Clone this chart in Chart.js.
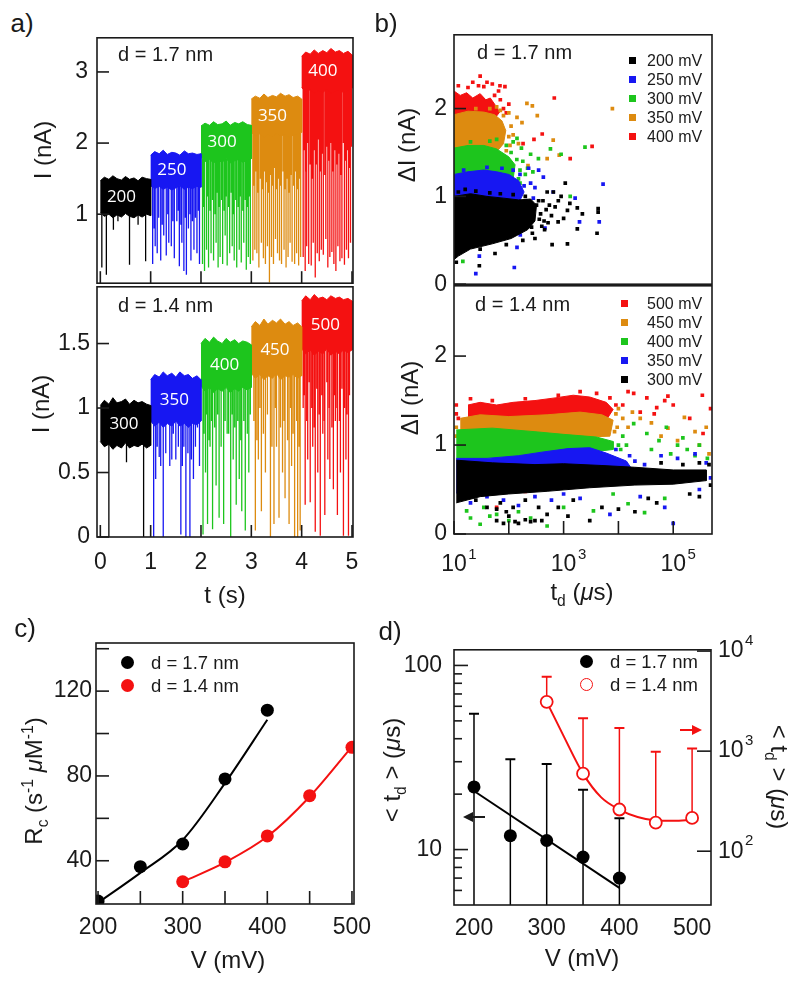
<!DOCTYPE html>
<html>
<head>
<meta charset="utf-8">
<title>Translocation panels</title>
<script src="https://cdn.jsdelivr.net/npm/chart.js@4.4.1/dist/chart.umd.min.js"></script>
<style>
  html, body { margin: 0; padding: 0; background: #fff; }
  body { width: 800px; height: 981px; position: relative; overflow: hidden;
         font-family: "Liberation Sans", Arial, Helvetica, sans-serif; color: #1a1a1a; }
  canvas { position: absolute; }
  .t { position: absolute; white-space: nowrap; line-height: 1; transform: translate(-50%, -50%); }
  .l { position: absolute; white-space: nowrap; line-height: 1; transform: translateY(-50%); }
  .up { transform: translate(-50%, -50%) rotate(-90deg); }
  .dn { transform: translate(-50%, -50%) rotate(90deg); }
  .ttl { font-size: 24px; }
  .pl { font-size: 26px; }
  .ann { font-size: 20px; }
  sub, sup { font-size: 65%; line-height: 0; }
  .leg { position: absolute; font-size: 16px; line-height: 19px; white-space: nowrap; }
  .leg2 { position: absolute; font-size: 18.5px; line-height: 23px; white-space: nowrap; }
  .mk { display: inline-block; vertical-align: middle; }
</style>
</head>
<body>
<canvas id="aTop"></canvas>
<canvas id="aBot"></canvas>
<canvas id="bTop"></canvas>
<canvas id="bBot"></canvas>
<canvas id="cPanel"></canvas>
<canvas id="dPanel"></canvas>

<!-- panel letters -->
<div class="t pl" style="left:22px;top:23px">a)</div>
<div class="t pl" style="left:386px;top:23px">b)</div>
<div class="t pl" style="left:25px;top:628px">c)</div>
<div class="t pl" style="left:390px;top:631px">d)</div>

<!-- annotations -->
<div class="l ann" style="left:118px;top:54px">d = 1.7 nm</div>
<div class="l ann" style="left:118px;top:305px">d = 1.4 nm</div>
<div class="l ann" style="left:477px;top:52px">d = 1.7 nm</div>
<div class="l ann" style="left:475px;top:304px">d = 1.4 nm</div>

<!-- axis titles -->
<div class="t up ttl" style="left:43px;top:150px">I (nA)</div>
<div class="t up ttl" style="left:41px;top:404px">I (nA)</div>
<div class="t ttl" style="left:225px;top:595px">t (s)</div>
<div class="t up ttl" style="left:407px;top:145px">ΔI (nA)</div>
<div class="t up ttl" style="left:410px;top:398px">ΔI (nA)</div>
<div class="t ttl" style="left:582px;top:592px">t<sub>d</sub> (<i>μ</i>s)</div>
<div class="t up ttl" style="left:34px;top:781px">R<sub>c</sub> (s<sup>-1</sup> <i>μ</i>M<sup>-1</sup>)</div>
<div class="t ttl" style="left:228px;top:960px">V (mV)</div>
<div class="t up ttl" style="left:392px;top:770px">&lt; t<sub>d</sub> &gt; (<i>μ</i>s)</div>
<div class="t dn ttl" style="left:779px;top:777px">&lt; t<sub>d</sub> &gt; (<i>μ</i>s)</div>
<div class="t ttl" style="left:582px;top:958px">V (mV)</div>

<!-- arrows in d -->
<svg style="position:absolute;left:463px;top:810px" width="24" height="14">
  <line x1="7" y1="7" x2="22" y2="7" stroke="#1a1a1a" stroke-width="2"/>
  <polygon points="0,7 10,2 10,12" fill="#1a1a1a"/>
</svg>
<svg style="position:absolute;left:679px;top:723px" width="24" height="14">
  <line x1="1" y1="7" x2="16" y2="7" stroke="#f41111" stroke-width="2"/>
  <polygon points="23,7 13,2 13,12" fill="#f41111"/>
</svg>

<script>
"use strict";

// Colours used throughout the figure
const BLACK = "#000000";
const BLUE = "#1717f2";
const GREEN = "#1dc51d";
const ORANGE = "#dd8b10";
const RED = "#f41111";
const INK = "#1a1a1a";

// ---------------- a) current traces ----------------
const aTopVolts = [200, 250, 300, 350, 400];
const aBotVolts = [300, 350, 400, 450, 500];
const aStarts = [0, 1, 2, 3, 4];          // start of each voltage step (s)
const aColors = [BLACK, BLUE, GREEN, ORANGE, RED];
const edgeT = [0, 0.08, 0.17, 0.25, 0.33, 0.42, 0.5, 0.58, 0.67, 0.75, 0.83, 0.92, 1.0];

// open-pore current envelope (nA), sampled at edgeT inside each step
const aTopUpper = [
    [1.47, 1.52, 1.49, 1.54, 1.50, 1.48, 1.53, 1.49, 1.51, 1.47, 1.52, 1.50, 1.49],
    [1.83, 1.88, 1.85, 1.90, 1.84, 1.87, 1.86, 1.83, 1.89, 1.85, 1.86, 1.84, 1.85],
    [2.24, 2.28, 2.25, 2.30, 2.26, 2.27, 2.31, 2.25, 2.29, 2.27, 2.30, 2.26, 2.25],
    [2.62, 2.66, 2.63, 2.69, 2.64, 2.67, 2.65, 2.70, 2.66, 2.68, 2.64, 2.66, 2.62],
    [3.22, 3.28, 3.25, 3.31, 3.26, 3.30, 3.27, 3.33, 3.28, 3.30, 3.26, 3.29, 3.24]
];
const aTopLower = [
    [1.02, 0.97, 1.00, 0.95, 0.99, 0.96, 1.01, 0.97, 0.95, 0.99, 0.96, 1.00, 0.98],
    [1.40, 1.36, 1.39, 1.35, 1.38, 1.34, 1.37, 1.40, 1.35, 1.38, 1.36, 1.39, 1.38],
    [1.80, 1.74, 1.77, 1.72, 1.76, 1.73, 1.78, 1.72, 1.75, 1.77, 1.73, 1.76, 1.78],
    [2.15, 2.10, 2.13, 2.08, 2.12, 2.09, 2.14, 2.10, 2.12, 2.08, 2.11, 2.13, 2.15],
    [2.78, 2.72, 2.75, 2.70, 2.74, 2.71, 2.76, 2.70, 2.73, 2.75, 2.71, 2.74, 2.77]
];
// blockade events: [time (s), minimum current (nA)]
const aTopSpikes = [
    [[0.03, 0.25], [0.12, 0.15], [0.26, 0.78], [0.35, 0.90], [0.58, 0.29], [0.75, 0.85], [0.90, 0.34]],
    [[1.04, 0.30], [1.07, 0.80], [1.09, 0.55], [1.13, 0.45], [1.16, 0.95], [1.20, 0.35], [1.23, 0.85],
     [1.26, 0.70], [1.31, 0.42], [1.34, 1.00], [1.36, 0.60], [1.41, 0.55], [1.44, 0.90], [1.47, 0.38],
     [1.52, 0.90], [1.55, 1.05], [1.57, 0.27], [1.60, 0.85], [1.62, 0.60], [1.66, 0.20], [1.69, 0.95],
     [1.71, 0.15], [1.75, 0.80], [1.78, 1.00], [1.80, 0.35], [1.83, 0.90], [1.86, 0.50], [1.89, 0.95],
     [1.92, 0.45], [1.95, 1.05], [1.97, 0.30]],
    [[2.03, 0.30], [2.05, 1.10], [2.07, 0.20], [2.11, 0.50], [2.13, 1.25], [2.15, 0.25], [2.18, 1.05],
     [2.20, 0.45], [2.23, 1.20], [2.25, 0.35], [2.28, 1.00], [2.30, 0.60], [2.32, 1.30], [2.34, 0.25],
     [2.36, 1.10], [2.38, 0.40], [2.41, 1.20], [2.43, 0.30], [2.46, 1.05], [2.48, 0.70], [2.50, 1.25],
     [2.52, 0.28], [2.55, 1.10], [2.57, 0.45], [2.60, 1.30], [2.62, 0.55], [2.64, 1.00], [2.66, 0.35],
     [2.69, 1.20], [2.71, 0.25], [2.74, 1.10], [2.76, 0.50], [2.78, 1.25], [2.80, 0.32], [2.83, 1.05],
     [2.85, 0.60], [2.88, 1.20], [2.90, 0.22], [2.92, 1.10], [2.94, 0.40], [2.96, 1.25], [2.98, 0.30]],
    [[3.03, 0.35], [3.05, 1.40], [3.07, 0.50], [3.09, 1.60], [3.11, 0.45], [3.13, 1.30], [3.15, 0.25],
     [3.18, 1.50], [3.20, 0.60], [3.22, 1.35], [3.24, 0.38], [3.26, 1.60], [3.28, 0.30], [3.30, 1.45],
     [3.32, 0.55], [3.34, 1.30], [3.36, 0.04], [3.38, 1.55], [3.40, 0.40], [3.42, 1.40], [3.44, 0.30],
     [3.46, 1.65], [3.48, 0.65], [3.50, 1.35], [3.52, 0.45], [3.54, 1.50], [3.56, 0.35], [3.58, 1.40],
     [3.60, 0.30], [3.63, 1.60], [3.65, 0.50], [3.67, 1.35], [3.69, 0.25], [3.71, 1.50], [3.73, 0.40],
     [3.75, 1.30], [3.77, 0.60], [3.79, 1.55], [3.81, 0.33], [3.84, 1.40], [3.86, 0.30], [3.88, 1.60],
     [3.90, 0.45], [3.92, 1.35], [3.94, 0.28], [3.96, 1.50], [3.98, 0.40]],
    [[4.03, 0.40], [4.05, 1.90], [4.07, 0.20], [4.09, 1.60], [4.10, 0.55], [4.12, 2.00], [4.14, 0.30],
     [4.17, 1.70], [4.19, 0.28], [4.21, 1.50], [4.23, 0.60], [4.25, 1.90], [4.27, 0.11], [4.29, 1.70],
     [4.31, 0.45], [4.33, 2.05], [4.35, 0.34], [4.37, 1.60], [4.39, 0.50], [4.41, 1.85], [4.43, 0.43],
     [4.46, 1.55], [4.48, 0.65], [4.50, 1.95], [4.52, 0.25], [4.54, 1.75], [4.56, 0.40], [4.58, 2.00],
     [4.60, 0.47], [4.62, 1.60], [4.64, 0.30], [4.66, 1.90], [4.68, 0.20], [4.70, 1.70], [4.72, 0.55],
     [4.74, 1.85], [4.76, 0.34], [4.78, 1.55], [4.80, 0.38], [4.83, 2.00], [4.85, 0.29], [4.87, 1.75],
     [4.89, 0.50], [4.91, 1.90], [4.93, 0.38], [4.95, 1.65], [4.97, 0.60], [4.99, 1.95]]
];

const aBotUpper = [
    [1.02, 1.06, 1.03, 1.08, 1.04, 1.05, 1.07, 1.03, 1.06, 1.04, 1.05, 1.03, 1.02],
    [1.22, 1.26, 1.24, 1.28, 1.25, 1.27, 1.24, 1.28, 1.25, 1.26, 1.23, 1.25, 1.22],
    [1.50, 1.54, 1.51, 1.55, 1.52, 1.50, 1.54, 1.51, 1.53, 1.50, 1.52, 1.51, 1.49],
    [1.63, 1.67, 1.64, 1.69, 1.65, 1.68, 1.66, 1.69, 1.65, 1.67, 1.64, 1.66, 1.63],
    [1.83, 1.87, 1.84, 1.88, 1.85, 1.86, 1.84, 1.87, 1.85, 1.86, 1.84, 1.85, 1.83]
];
const aBotLower = [
    [0.74, 0.70, 0.72, 0.68, 0.71, 0.69, 0.73, 0.69, 0.71, 0.70, 0.72, 0.69, 0.71],
    [0.90, 0.86, 0.89, 0.85, 0.88, 0.86, 0.90, 0.86, 0.88, 0.85, 0.88, 0.87, 0.90],
    [1.17, 1.13, 1.16, 1.12, 1.15, 1.13, 1.16, 1.12, 1.15, 1.13, 1.16, 1.14, 1.16],
    [1.27, 1.23, 1.26, 1.22, 1.25, 1.23, 1.27, 1.22, 1.25, 1.24, 1.26, 1.23, 1.25],
    [1.46, 1.42, 1.45, 1.41, 1.44, 1.42, 1.46, 1.41, 1.44, 1.42, 1.45, 1.43, 1.45]
];
const aBotSpikes = [
    [[0.17, 0.00], [0.52, 0.58], [0.86, 0.00]],
    [[1.06, 0.00], [1.10, 0.45], [1.13, 0.70], [1.17, 0.62], [1.20, 0.55], [1.25, 0.00], [1.30, 0.65],
     [1.38, 0.55], [1.42, 0.60], [1.45, 0.80], [1.50, 0.60], [1.55, 0.70], [1.60, 0.02], [1.63, 0.55],
     [1.66, 0.70], [1.70, 0.00], [1.74, 0.65], [1.78, 0.00], [1.81, 0.60], [1.85, 0.45], [1.89, 0.70],
     [1.93, 0.85], [1.97, 0.55]],
    [[2.04, 0.02], [2.06, 0.80], [2.09, 0.50], [2.11, 0.95], [2.13, 0.10], [2.16, 0.75], [2.18, 0.70],
     [2.21, 0.90], [2.23, 0.06], [2.27, 0.85], [2.30, 0.40], [2.33, 0.95], [2.36, 0.15], [2.40, 0.70],
     [2.45, 0.10], [2.48, 0.90], [2.52, 0.80], [2.55, 0.80], [2.59, 0.00], [2.62, 0.95], [2.64, 0.60],
     [2.67, 0.85], [2.70, 0.25], [2.73, 0.90], [2.76, 0.45], [2.79, 0.75], [2.81, 0.20], [2.85, 0.90],
     [2.88, 0.05], [2.92, 0.80], [2.95, 0.50], [2.98, 0.95]],
    [[3.05, 0.90], [3.08, 0.05], [3.11, 0.75], [3.14, 0.60], [3.17, 1.00], [3.20, 0.20], [3.24, 0.80],
     [3.28, 0.50], [3.32, 0.95], [3.38, 0.00], [3.41, 0.70], [3.45, 0.10], [3.48, 1.00], [3.50, 0.70],
     [3.55, 0.15], [3.58, 0.85], [3.62, 0.50], [3.65, 0.90], [3.67, 0.30], [3.72, 0.75], [3.75, 0.10],
     [3.78, 1.00], [3.80, 0.55], [3.83, 0.80], [3.86, 0.00], [3.90, 0.90], [3.92, 0.00], [3.95, 0.70], [3.97, 0.05]],
    [[4.03, 1.00], [4.05, 1.10], [4.07, 0.25], [4.10, 0.90], [4.12, 0.60], [4.15, 1.20], [4.17, 0.27],
     [4.20, 1.00], [4.22, 0.70], [4.25, 0.85], [4.27, 0.04], [4.30, 1.15], [4.32, 0.50], [4.35, 0.95],
     [4.37, 0.01], [4.40, 1.10], [4.42, 0.80], [4.45, 0.90], [4.46, 0.17], [4.50, 1.20], [4.52, 0.60],
     [4.55, 1.00], [4.56, 0.45], [4.60, 0.85], [4.63, 0.37], [4.65, 1.10], [4.67, 0.90], [4.70, 1.00],
     [4.71, 0.17], [4.75, 0.90], [4.77, 0.50], [4.80, 1.15], [4.83, 0.01], [4.85, 1.00], [4.88, 0.60],
     [4.90, 0.95], [4.93, 0.01], [4.95, 1.10]]
];

const aXTicks = [0, 1, 2, 3, 4, 5];
const aTopYTicks = [1, 2, 3];
const aBotYTicks = [0, 0.5, 1, 1.5];

// ---------------- b) scatter of blockade depth vs dwell time ----------------
const bTopNames = ["200 mV", "250 mV", "300 mV", "350 mV", "400 mV"];
const bTopColors = [BLACK, BLUE, GREEN, ORANGE, RED];
// dense core outline of each cloud: [t_d (us), dI (nA)]
const bTopCores = [
    [[10, 1.0], [20, 1.03], [40, 1.0], [80, 0.98], [150, 0.96], [250, 0.97], [320, 0.9], [300, 0.72],
     [220, 0.62], [110, 0.52], [50, 0.46], [20, 0.4], [12, 0.32], [10, 0.28]],
    [[10, 1.25], [18, 1.28], [35, 1.3], [60, 1.28], [100, 1.25], [150, 1.18], [190, 1.05], [150, 0.92],
     [80, 0.88], [30, 0.86], [10, 0.86]],
    [[10, 1.55], [18, 1.58], [35, 1.58], [60, 1.54], [100, 1.45], [130, 1.36], [120, 1.2], [80, 1.12],
     [35, 1.09], [10, 1.1]],
    [[10, 1.93], [18, 1.97], [35, 1.96], [55, 1.93], [75, 1.86], [88, 1.75], [80, 1.6], [55, 1.48],
     [30, 1.45], [10, 1.44]],
    [[10, 2.2], [13, 2.15], [17, 2.18], [22, 2.12], [30, 2.17], [38, 2.1], [46, 2.12], [58, 2.03],
     [68, 1.96], [50, 1.85], [25, 1.82], [10, 1.82]]
];
// individual events outside the dense cores
const bTopDots = [
    [[1072, 1.15], [501, 1.05], [4266, 0.86], [4266, 0.82], [1778, 0.87], [1175, 0.84], [1778, 0.63],
     [4074, 0.58], [617, 0.45], [1175, 0.46], [269, 0.58], [56, 0.35], [29, 0.21], [11, 0.25], [794, 0.71],
     [800, 0.95], [900, 1.0], [700, 0.88], [1000, 0.75], [450, 0.62], [300, 0.52], [180, 0.5], [650, 1.05],
     [350, 0.95], [1300, 0.92], [2200, 0.8], [90, 0.45], [30, 0.4], [12, 1.05], [16, 1.08], [25, 1.06],
     [45, 1.04], [70, 1.03], [120, 1.02], [200, 1.0], [320, 0.9], [380, 0.8], [420, 0.95], [480, 0.85],
     [550, 0.9], [600, 0.78], [520, 0.7], [400, 0.66], [260, 0.65], [360, 0.74], [440, 0.72]],
    [[5248, 1.14], [1622, 0.98], [1950, 0.71], [4467, 0.71], [427, 1.22], [646, 1.05], [457, 0.64],
     [162, 0.56], [141, 0.42], [29, 0.32], [25, 0.12], [126, 0.19], [250, 1.15], [300, 1.1], [350, 1.3],
     [230, 1.32], [280, 0.98], [200, 0.85], [70, 0.8], [40, 0.5], [120, 1.3], [160, 1.25], [190, 1.12],
     [210, 0.95], [130, 0.9], [15, 1.3], [40, 1.33], [75, 1.32]],
    [[2455, 1.56], [575, 1.54], [347, 1.43], [275, 1.28], [1318, 1.0], [141, 1.66], [14.5, 0.26],
     [17.4, 0.43], [180, 1.4], [220, 1.32], [250, 1.48], [200, 1.25], [170, 1.55], [120, 1.62],
     [160, 1.15], [60, 1.65], [900, 1.48], [110, 1.5], [140, 1.42], [160, 1.3], [150, 1.2], [20, 1.62],
     [45, 1.63], [90, 1.58]],
    [[7762, 2.0], [214, 2.06], [269, 2.03], [331, 1.92], [141, 1.9], [174, 1.84], [646, 1.64], [501, 1.43],
     [832, 1.47], [224, 1.35], [100, 1.95], [110, 1.8], [120, 1.7], [60, 2.02], [150, 1.6], [80, 1.92],
     [100, 1.68], [105, 1.58], [90, 1.52], [25, 2.0], [45, 2.0], [70, 1.98]],
    [[30, 2.37], [676, 2.12], [69, 2.26], [85, 2.25], [288, 1.65], [407, 1.71], [182, 1.6], [3311, 1.57],
     [1318, 1.43], [120, 0.56], [50, 2.28], [40, 2.3], [22, 2.3], [12, 2.26], [65, 2.2], [35, 2.25],
     [100, 2.05], [90, 1.95], [70, 2.1], [80, 2.0], [18, 2.24], [28, 2.26], [55, 2.15]]
];

const bBotNames = ["500 mV", "450 mV", "400 mV", "350 mV", "300 mV"];
const bBotColors = [RED, ORANGE, GREEN, BLUE, BLACK];
const bBotCores = [
    [[18, 1.45], [30, 1.48], [60, 1.45], [120, 1.48], [300, 1.5], [700, 1.53], [1500, 1.56], [3000, 1.54],
     [6000, 1.48], [8000, 1.4], [6000, 1.28], [1000, 1.26], [100, 1.26], [18, 1.26]],
    [[13, 1.3], [30, 1.34], [100, 1.32], [500, 1.34], [2000, 1.37], [5000, 1.34], [8000, 1.28], [7000, 1.1],
     [1000, 1.08], [100, 1.07], [13, 1.05]],
    [[11, 1.17], [50, 1.19], [300, 1.15], [1000, 1.12], [4000, 1.09], [8000, 1.04], [8000, 0.95], [3000, 0.92],
     [500, 0.88], [100, 0.86], [11, 0.84]],
    [[11, 0.85], [40, 0.85], [150, 0.88], [400, 0.92], [1200, 0.96], [3000, 0.97], [6000, 0.91],
     [14000, 0.82], [18000, 0.72], [8000, 0.62], [2000, 0.58], [500, 0.52], [100, 0.48], [11, 0.46]],
    [[11, 0.83], [50, 0.8], [300, 0.78], [1000, 0.79], [5000, 0.77], [20000, 0.75], [100000, 0.72],
     [400000, 0.72], [400000, 0.6], [100000, 0.56], [20000, 0.55], [3000, 0.52], [500, 0.48], [100, 0.45],
     [30, 0.42], [11, 0.35]]
];
const bBotDots = [
    [[19000, 1.58], [15000, 1.6], [33000, 1.53], [70000, 1.5], [100000, 1.45], [340000, 1.56], [480000, 1.41],
     [25000, 1.37], [350000, 1.13], [12000, 1.45], [45000, 1.35], [80000, 1.55], [200000, 1.3], [50000, 1.42],
     [11, 1.35], [11, 1.45], [12, 1.3], [30, 0.55], [200, 0.48], [60, 0.3], [20, 1.52], [50, 1.5],
     [200, 1.52], [800, 1.56], [2000, 1.6], [4000, 1.58], [7000, 1.53], [9000, 1.45]],
    [[10000, 1.41], [18000, 1.37], [160000, 1.31], [400000, 1.2], [300000, 1.0], [80000, 1.19], [40000, 1.25],
     [25000, 1.3], [450000, 0.9], [120000, 1.05], [15000, 1.2], [60000, 1.1], [250000, 1.15], [12000, 1.3],
     [11, 1.1], [11, 1.2], [9000, 1.35], [9500, 1.2], [8500, 1.15]],
    [[33000, 1.13], [55000, 1.05], [120000, 1.0], [180000, 0.95], [250000, 0.88], [300000, 1.0], [75000, 1.2],
     [19000, 1.24], [14000, 1.0], [420000, 0.85], [40000, 0.95], [90000, 0.9], [150000, 1.08], [12000, 1.1],
     [30, 0.11], [17, 0.26], [45, 0.2], [100, 0.15], [250, 0.18], [500, 0.09], [3500, 0.26], [15000, 0.34],
     [30000, 0.24], [70000, 0.4], [8000, 0.45], [1000, 0.3], [20, 0.18], [60, 0.22], [35, 0.3], [150, 0.25],
     [10000, 1.0], [11000, 0.95]],
    [[100000, 0.12], [70000, 0.3], [7000, 0.22], [480000, 0.63], [400000, 0.8], [200000, 0.7], [50000, 0.6],
     [30000, 0.78], [120000, 0.85], [300000, 0.5], [20, 0.35], [150, 0.32], [600, 0.38], [2000, 0.4],
     [25000, 0.42], [40, 0.42], [80, 0.38], [300, 0.42], [1000, 0.45], [60000, 0.88], [250000, 0.9],
     [20000, 0.82], [16000, 0.88], [9000, 0.95]],
    [[60, 0.15], [80, 0.12], [100, 0.2], [130, 0.14], [150, 0.12], [200, 0.16], [250, 0.14], [300, 0.15],
     [400, 0.15], [500, 0.22], [1200, 0.2], [3000, 0.15], [5000, 0.3], [10000, 0.28], [20000, 0.25],
     [35000, 0.4], [50000, 0.35], [200000, 0.45], [300000, 0.42], [40, 0.3], [70, 0.35], [120, 0.3],
     [200, 0.38], [800, 0.3], [1500, 0.38], [25, 0.38], [350, 0.3], [90, 0.25], [60, 0.28],
     [450000, 0.78], [300000, 0.8], [150000, 0.78], [60000, 0.8], [480000, 0.55]]
];

const bXTicks = [10, 100, 1000, 10000, 100000];
const bYTicks = [0, 1, 2];

// ---------------- c) capture rate ----------------
const cV17 = [200, 250, 300, 350, 400];
const cRc17 = [21.0, 37.2, 47.9, 78.6, 111.0];
const cFit17 = [20.2, 34.3, 49.8, 76.6, 106.5];
const cV14 = [300, 350, 400, 450, 500];
const cRc14 = [30.1, 39.5, 51.7, 70.7, 93.5];
const cFit14 = [30.1, 39.2, 51.4, 70.2, 93.8];
const cXTicks = [200, 250, 300, 350, 400, 450, 500];
const cYTicks = [40, 60, 80, 100, 120, 140];

// ---------------- d) mean dwell time ----------------
const dV17 = [200, 250, 300, 350, 400];
const dTd17 = [21.9, 11.9, 11.2, 9.1, 7.0];
const dTd17Up = [54.7, 30.9, 29.2, 21.1, 14.8];
const dFit17V = [200, 400];
const dFit17 = [20.8, 6.2];
const dV14 = [300, 350, 400, 450, 500];
const dTd14 = [3110, 596, 261, 193, 215];
const dTd14Up = [5530, 2130, 1705, 987, 1062];
const dFit14V = [300, 323, 350, 375, 400, 425, 450, 475, 500];
const dFit14 = [3110, 1430, 596, 345, 261, 220, 203, 201, 205];
const dXTicks = [200, 300, 400, 500];
const dYTicks = [6, 7, 8, 9, 10, 20, 30, 40, 50, 60, 70, 80, 90, 100];
const dY2Ticks = [100, 1000, 10000];
const dYMin = 5.0;


// ---------------- helpers ----------------
const TICK_FONT = {family: "'Liberation Sans', Arial, sans-serif", size: 23};

function avg(a) {
    return a.reduce((s, v) => s + v, 0) / a.length;
}

function pts(xs, ys) {
    return xs.map((x, i) => ({x: x, y: ys[i]}));
}

function pairs(list) {
    return list.map(p => ({x: p[0], y: p[1]}));
}

// Put a canvas so that its chart area lands on box (page pixels)
function placeCanvas(id, box, m) {
    const cv = document.getElementById(id);
    const w = box.r - box.l + m.l + m.r;
    const h = box.b - box.t + m.t + m.b;
    cv.width = w;
    cv.height = h;
    cv.style.left = (box.l - m.l) + "px";
    cv.style.top = (box.t - m.t) + "px";
    cv.style.width = w + "px";
    cv.style.height = h + "px";
    return cv;
}

// Scale with fixed tick list, no grid, size forced so the chart area is exact
function axis(type, min, max, ticks, labelFn, pad, size, isX, showLabels, extra) {
    return Object.assign({
        type: type,
        min: min,
        max: max,
        afterBuildTicks: s => { s.ticks = ticks.map(v => ({value: v})); },
        afterFit: s => { if (isX) { s.height = size; } else { s.width = size; } },
        grid: {display: false, drawTicks: false},
        border: {display: false},
        ticks: {
            display: showLabels,
            autoSkip: false,
            maxRotation: 0,
            padding: pad,
            color: INK,
            font: TICK_FONT,
            callback: v => labelFn(v)
        }
    }, extra || {});
}

// Box around the plot plus inward tick marks
const frameTicks = {
    id: "frameTicks",
    afterDatasetsDraw(chart, args, opts) {
        const ctx = chart.ctx;
        const a = chart.chartArea;
        ctx.save();
        ctx.strokeStyle = INK;
        ctx.lineWidth = 1.6;
        ctx.strokeRect(a.left, a.top, a.right - a.left, a.bottom - a.top);
        const lens = opts.len || {};
        Object.values(chart.scales).forEach(s => {
            const len = lens[s.id];
            if (!len) return;
            s.ticks.forEach(t => {
                const p = s.getPixelForValue(t.value);
                const l = (t.label !== "" && t.label !== undefined) ? len[0] : len[1];
                ctx.beginPath();
                if (s.position === "left") { ctx.moveTo(a.left, p); ctx.lineTo(a.left + l, p); }
                else if (s.position === "right") { ctx.moveTo(a.right, p); ctx.lineTo(a.right - l, p); }
                else { ctx.moveTo(p, a.bottom); ctx.lineTo(p, a.bottom - l); }
                ctx.stroke();
            });
        });
        ctx.restore();
    }
};

// Exponents for the "10^n" tick labels of log axes
const powerLabels = {
    id: "powerLabels",
    afterDraw(chart, args, opts) {
        if (!opts.axes) return;
        const ctx = chart.ctx;
        ctx.save();
        ctx.fillStyle = INK;
        opts.axes.forEach(id => {
            const s = chart.scales[id];
            const pad = s.options.ticks.padding;
            const lh = TICK_FONT.size * 1.2;
            s.ticks.forEach(t => {
                if (t.label !== "10") return;
                const e = String(Math.round(Math.log10(t.value)));
                ctx.font = TICK_FONT.size + "px " + TICK_FONT.family;
                const w = ctx.measureText("10").width;
                ctx.font = "15px " + TICK_FONT.family;
                ctx.textBaseline = "middle";
                ctx.textAlign = "left";
                const p = s.getPixelForValue(t.value);
                if (s.position === "bottom") {
                    ctx.fillText(e, p + w / 2 + 1.5, s.top + pad + lh / 2 - 10);
                } else {
                    ctx.fillText(e, s.left + pad + w + 1.5, p - 10);
                }
            });
        });
        ctx.restore();
    }
};

// White voltage labels inside the current bands
const bandText = {
    id: "bandText",
    afterDatasetsDraw(chart, args, opts) {
        if (!opts.items) return;
        const ctx = chart.ctx;
        const x = chart.scales.x, y = chart.scales.y;
        ctx.save();
        ctx.fillStyle = "#ffffff";
        ctx.font = "17px 'Open Sans', 'DejaVu Sans', sans-serif";
        ctx.textAlign = "center";
        ctx.textBaseline = "middle";
        opts.items.forEach(it => ctx.fillText(it.text, x.getPixelForValue(it.x), y.getPixelForValue(it.y)));
        ctx.restore();
    }
};

function baseOptions(m, scales, plugins) {
    return {
        responsive: false,
        devicePixelRatio: 1,
        animation: false,
        events: [],
        layout: {padding: {top: m.t, right: m.padR === undefined ? m.r : m.padR, left: 0, bottom: 0}},
        scales: scales,
        plugins: Object.assign({legend: {display: false}, tooltip: {enabled: false}}, plugins)
    };
}

// Filled band per voltage step plus the downward blockade spikes
function traceDatasets(upper, lower, spikes) {
    const ds = [];
    aStarts.forEach((s0, i) => {
        const top = edgeT.map((f, k) => ({x: s0 + f, y: upper[i][k]}));
        const bot = edgeT.map((f, k) => ({x: s0 + f, y: lower[i][k]})).reverse();
        ds.push({
            data: top.concat(bot), fill: "shape", showLine: true,
            backgroundColor: aColors[i], borderColor: aColors[i], borderWidth: 1,
            pointRadius: 0, tension: 0
        });
        const base = avg(lower[i]) + 0.03;
        const sp = [];
        spikes[i].forEach(p => { sp.push({x: p[0], y: base}, {x: p[0], y: p[1]}, {x: p[0], y: null}); });
        ds.push({
            data: sp, fill: false, showLine: true, spanGaps: false,
            borderColor: aColors[i], borderWidth: 1.3, pointRadius: 0
        });
    });
    return ds;
}

function bandLabels(volts, upper, lower, shift) {
    return volts.map((v, i) => ({
        text: String(v),
        x: aStarts[i] + shift,
        y: (avg(upper[i]) + avg(lower[i])) / 2
    }));
}

// Cloud cores (filled outline) and individual events; rank 0 is drawn on top
function cloudDatasets(cores, dots, colors, rank) {
    const ds = [];
    cores.forEach((core, i) => {
        ds.push({
            data: pairs(core), fill: "shape", showLine: true,
            backgroundColor: colors[i], borderColor: colors[i], borderWidth: 1,
            pointRadius: 0, order: rank(i) * 2 + 1
        });
        ds.push({
            data: pairs(dots[i]), showLine: false, pointStyle: "rect", pointRadius: 2.6,
            pointBorderWidth: 0, pointBackgroundColor: colors[i], order: rank(i) * 2
        });
    });
    return ds;
}

function legendHtml(cls, left, top, names, markers) {
    const div = document.createElement("div");
    div.className = cls;
    div.style.left = left + "px";
    div.style.top = top + "px";
    names.forEach((n, i) => {
        const row = document.createElement("div");
        row.innerHTML = markers[i] + n;
        div.appendChild(row);
    });
    document.body.appendChild(div);
}

function squares(colors, gap) {
    return colors.map(c => '<span class="mk" style="width:7px;height:7px;background:' + c +
        ';margin:0 ' + gap + 'px 2px 0"></span>');
}


// ---------------- a) ----------------
(function () {
    const box = {l: 97, t: 35, r: 353, b: 286};
    const m = {l: 60, t: 20, r: 30, b: 20};
    const cv = placeCanvas("aTop", box, m);
    new Chart(cv, {
        type: "line",
        data: {datasets: traceDatasets(aTopUpper, aTopLower, aTopSpikes)},
        options: baseOptions(m, {
            x: axis("linear", -0.066, 5.02, aXTicks, v => String(v), 12, m.b, true, false),
            y: axis("linear", 0.03, 3.48, aTopYTicks, v => String(v), 9, m.l, false, true)
        }, {
            frameTicks: {len: {x: [12, 12], y: [12, 12]}},
            bandText: {items: bandLabels(aTopVolts, aTopUpper, aTopLower, 0.42)}
        }),
        plugins: [frameTicks, bandText]
    });
})();

(function () {
    const box = {l: 97, t: 286, r: 353, b: 537};
    const m = {l: 60, t: 20, r: 30, b: 45};
    const cv = placeCanvas("aBot", box, m);
    new Chart(cv, {
        type: "line",
        data: {datasets: traceDatasets(aBotUpper, aBotLower, aBotSpikes)},
        options: baseOptions(m, {
            x: axis("linear", -0.066, 5.02, aXTicks, v => String(v), 12, m.b, true, true),
            y: axis("linear", 0, 1.94, aBotYTicks, v => String(v), 7, m.l, false, true)
        }, {
            frameTicks: {len: {x: [12, 12], y: [12, 12]}},
            bandText: {items: bandLabels(aBotVolts, aBotUpper, aBotLower, 0.47)}
        }),
        plugins: [frameTicks, bandText]
    });
})();

// ---------------- b) ----------------
(function () {
    const box = {l: 454, t: 34, r: 712, b: 285};
    const m = {l: 50, t: 20, r: 30, b: 20};
    const cv = placeCanvas("bTop", box, m);
    new Chart(cv, {
        type: "line",
        data: {datasets: cloudDatasets(bTopCores, bTopDots, bTopColors, i => i)},
        options: baseOptions(m, {
            x: axis("logarithmic", 10, 5.1e5, bXTicks, v => "", 17, m.b, true, false),
            y: axis("linear", 0, 2.84, bYTicks, v => String(v), 7, m.l, false, true)
        }, {
            frameTicks: {len: {y: [12, 12]}}
        }),
        plugins: [frameTicks]
    });
    legendHtml("leg", 629, 51, bTopNames, squares(bTopColors, 11));
})();

(function () {
    const box = {l: 454, t: 285, r: 712, b: 534};
    const m = {l: 50, t: 20, r: 30, b: 45};
    const cv = placeCanvas("bBot", box, m);
    new Chart(cv, {
        type: "line",
        data: {datasets: cloudDatasets(bBotCores, bBotDots, bBotColors, i => 4 - i)},
        options: baseOptions(m, {
            x: axis("logarithmic", 10, 5.1e5, bXTicks,
                v => ([10, 1000, 100000].indexOf(v) >= 0 ? "10" : ""), 17, m.b, true, true),
            y: axis("linear", 0, 2.79, bYTicks, v => String(v), 7, m.l, false, true)
        }, {
            frameTicks: {len: {x: [13, 13], y: [12, 12]}},
            powerLabels: {axes: ["x"]}
        }),
        plugins: [frameTicks, powerLabels]
    });
    legendHtml("leg", 621, 294, bBotNames, squares(bBotColors, 19));
})();

// ---------------- c) ----------------
(function () {
    const box = {l: 96, t: 643, r: 354, b: 904};
    const m = {l: 60, t: 20, r: 30, b: 45};
    const cv = placeCanvas("cPanel", box, m);
    new Chart(cv, {
        type: "line",
        data: {datasets: [
            {data: pts(cV17, cRc17), showLine: false, pointRadius: 6.5, pointBorderWidth: 0,
             pointBackgroundColor: BLACK, order: 0},
            {data: pts(cV14, cRc14), showLine: false, pointRadius: 6.5, pointBorderWidth: 0,
             pointBackgroundColor: RED, order: 1},
            {data: pts(cV17, cFit17), borderColor: BLACK, borderWidth: 2, pointRadius: 0,
             cubicInterpolationMode: "monotone", order: 2},
            {data: pts(cV14, cFit14), borderColor: RED, borderWidth: 2, pointRadius: 0,
             cubicInterpolationMode: "monotone", order: 3}
        ]},
        options: baseOptions(m, {
            x: axis("linear", 197.6, 502.4, cXTicks, v => (v % 100 === 0 ? String(v) : ""), 10, m.b, true, true),
            y: axis("linear", 19.6, 142.7, cYTicks, v => (v % 40 === 0 ? String(v) : ""), 4, m.l, false, true)
        }, {
            frameTicks: {len: {x: [13, 13], y: [13, 13]}}
        }),
        plugins: [frameTicks]
    });
    const dot = c => '<span class="mk" style="width:13px;height:13px;border-radius:50%;background:' + c + ';margin:0 17px 3px 0"></span>';
    legendHtml("leg2", 121, 651, ["d = 1.7 nm", "d = 1.4 nm"], [dot(BLACK), dot(RED)]);
})();

// ---------------- d) ----------------
(function () {
    const box = {l: 454, t: 644, r: 711, b: 905};
    const m = {l: 65, t: 20, r: 60, b: 45, padR: 0};
    const cv = placeCanvas("dPanel", box, m);

    const bars17 = [];
    dV17.forEach((v, i) => { bars17.push({x: v, y: dYMin}, {x: v, y: dTd17Up[i]}, {x: v, y: null}); });
    const bars14 = [];
    dV14.forEach((v, i) => { bars14.push({x: v, y: dTd14[i]}, {x: v, y: dTd14Up[i]}, {x: v, y: null}); });

    new Chart(cv, {
        type: "line",
        data: {datasets: [
            {data: pts(dV17, dTd17), showLine: false, pointRadius: 6.5, pointBorderWidth: 0,
             pointBackgroundColor: BLACK, order: 0},
            {data: pts(dV14, dTd14), yAxisID: "y2", showLine: false, pointRadius: 6, pointBorderWidth: 1.8,
             pointBorderColor: RED, pointBackgroundColor: "#ffffff", order: 1},
            {data: pts(dFit17V, dFit17), borderColor: BLACK, borderWidth: 2, pointRadius: 0, order: 2},
            {data: pts(dFit14V, dFit14), yAxisID: "y2", borderColor: RED, borderWidth: 2, pointRadius: 0,
             cubicInterpolationMode: "monotone", order: 3},
            {data: bars17, borderColor: BLACK, borderWidth: 1.5, pointRadius: 0, spanGaps: false, order: 4},
            {data: pts(dV17, dTd17Up), showLine: false, pointStyle: "line", pointRadius: 5,
             pointBorderWidth: 2, pointBorderColor: BLACK, order: 5},
            {data: bars14, yAxisID: "y2", borderColor: RED, borderWidth: 1.5, pointRadius: 0, spanGaps: false, order: 6},
            {data: pts(dV14, dTd14Up), yAxisID: "y2", showLine: false, pointStyle: "line", pointRadius: 5,
             pointBorderWidth: 2, pointBorderColor: RED, order: 7}
        ]},
        options: baseOptions(m, {
            x: axis("linear", 172.5, 526, dXTicks, v => String(v), 10, m.b, true, true),
            y: axis("logarithmic", dYMin, 121.6, dYTicks, v => (v === 10 || v === 100 ? String(v) : ""),
                12, m.l, false, true, {position: "left"}),
            y2: axis("logarithmic", 29, 10300, dY2Ticks, v => "10", 7, m.r, false, true,
                {position: "right"})
        }, {
            frameTicks: {len: {y: [14, 8], y2: [14, 8]}},
            powerLabels: {axes: ["y2"]}
        }),
        plugins: [frameTicks, powerLabels]
    });
    const dot = '<span class="mk" style="width:13px;height:13px;border-radius:50%;background:' + BLACK + ';margin:0 17px 3px 0"></span>';
    const ring = '<span class="mk" style="box-sizing:border-box;width:13px;height:13px;border-radius:50%;border:1.8px solid ' + RED + ';margin:0 17px 3px 0"></span>';
    legendHtml("leg2", 580, 650, ["d = 1.7 nm", "d = 1.4 nm"], [dot, ring]);
})();
</script>
</body>
</html>
